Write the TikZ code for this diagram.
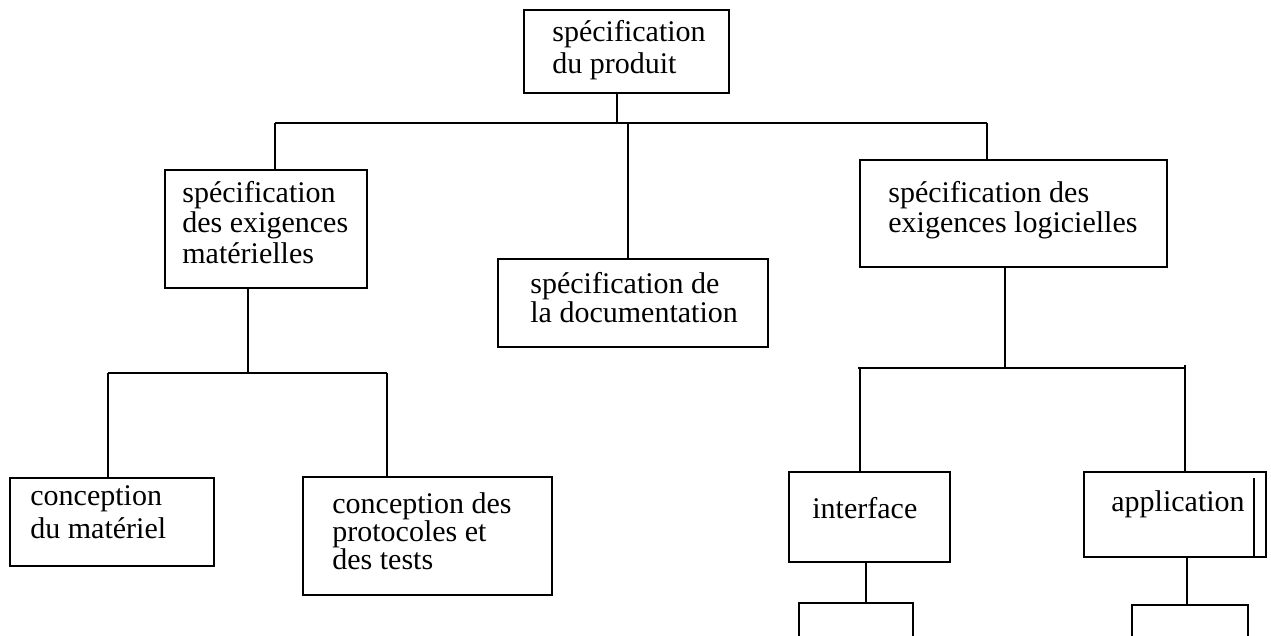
\documentclass[tikz,border=0pt]{standalone}
\usepackage{fontspec}
\setmainfont{Liberation Serif}
\begin{document}
\begin{tikzpicture}[x=0.5pt,y=-0.5pt,
  box/.style={draw,line width=1.4pt,rectangle,inner sep=0pt},
  lbl/.style={anchor=north west,inner sep=0pt,align=left},
  link/.style={line width=1.2pt}]
\clip (0,0) rectangle (1271,636);
\newcommand{\topstr}{\rule{0pt}{11pt}}

% boxes
\node[box,minimum width=102.5pt,minimum height=41.5pt] (P)   at (626.5,51.5) {};
\node[box,minimum width=101pt,minimum height=59pt]     (HM)  at (266,229) {};
\node[box,minimum width=135pt,minimum height=44pt]     (DOC) at (633,303) {};
\node[box,minimum width=153.5pt,minimum height=53.5pt] (SW)  at (1013.5,213.5) {};
\node[box,minimum width=102pt,minimum height=44pt]     (CM)  at (112,522) {};
\node[box,minimum width=124.5pt,minimum height=59pt]   (CP)  at (427.5,536) {};
\node[box,minimum width=80.5pt,minimum height=45pt]    (IF)  at (869.5,517) {};
\node[box,minimum width=91pt,minimum height=42.5pt]    (AP)  at (1175,514.5) {};
\node[box,minimum width=57pt,minimum height=28.5pt]    (IFc) at (856,631.5) {};
\node[box,minimum width=58pt,minimum height=27.5pt]    (APc) at (1190,632.5) {};

% texts
\node[lbl,font=\fontsize{15}{16}\selectfont] (tP) at (552,19)
  {\topstr spécification\\du produit};
\node[lbl,font=\fontsize{15}{15.25}\selectfont] (tHM) at (182,180)
  {\topstr spécification\\des exigences\\matérielles};
\node[lbl,font=\fontsize{15}{14.5}\selectfont] (tDOC) at (530,271)
  {\topstr spécification de\\la documentation};
\node[lbl,font=\fontsize{15}{15}\selectfont] (tSW) at (888,180)
  {\topstr spécification des\\exigences logicielles};
\node[lbl,font=\fontsize{15}{16.5}\selectfont] (tCM) at (30,483)
  {\topstr conception\\du matériel};
\node[lbl,font=\fontsize{15}{14}\selectfont] (tCP) at (332,491)
  {\topstr conception des\\protocoles et\\des tests};
\node[lbl,font=\fontsize{15}{15}\selectfont] (tIF) at (812,496)
  {\topstr interface};
\node[lbl,font=\fontsize{15}{15}\selectfont] (tAP) at (1111,489)
  {\topstr application};

% mark inside the application box
\draw[line width=1.2pt] (1254,478) -- (1254,556);

% bus coordinates
\coordinate (b0) at (617,123);
\coordinate (bL) at (275,123);
\coordinate (bR) at (987,123);
\coordinate (bM) at (628,123);
\coordinate (h0) at (248,373);
\coordinate (hL) at (108,373);
\coordinate (hR) at (387,373);
\coordinate (s0) at (1005,368);
\coordinate (sL) at (858,368);
\coordinate (sR) at (1185,368);

% first level
\draw[link] (P.south -| b0) -- (b0);
\draw[link] (bL) -- (bR);
\draw[link] (bL) -- (bL |- HM.north);
\draw[link] (bM) -- (bM |- DOC.north);
\draw[link] (bR) -- (bR |- SW.north);

% hardware branch
\draw[link] (HM.south -| h0) -- (h0);
\draw[link] (hL) -- (hR);
\draw[link] (hL) -- (hL |- CM.north);
\draw[link] (hR) -- (hR |- CP.north);

% software branch
\draw[link] (SW.south -| s0) -- (s0);
\draw[link] (sL) -- (sR);
\draw[link] (860,368) -- (IF.north -| 860,0);
\draw[link] (1185,365) -- (AP.north -| sR);
\draw[link] (IF.south -| 866,0) -- (IFc.north -| 866,0);
\draw[link] (AP.south -| 1187,0) -- (APc.north -| 1187,0);
\end{tikzpicture}
\end{document}
